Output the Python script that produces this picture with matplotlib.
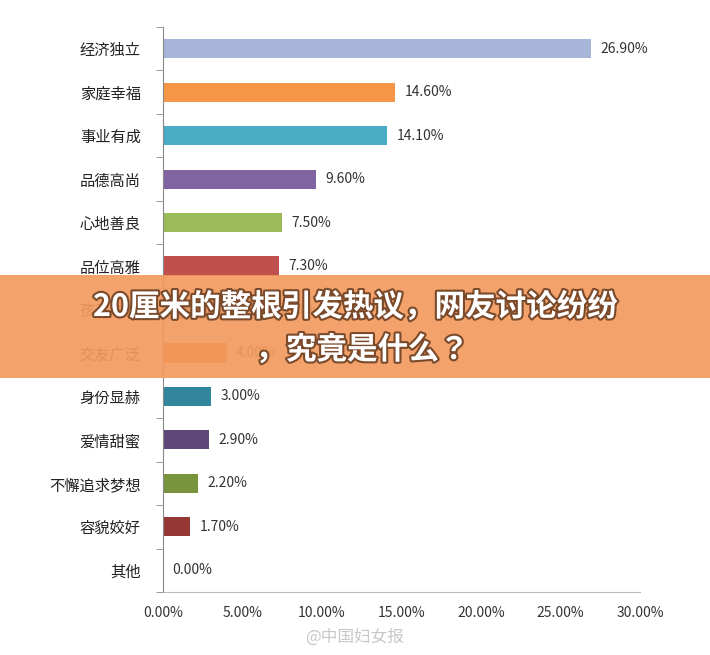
import matplotlib.pyplot as plt
import matplotlib.patches as mpatches
import matplotlib.patheffects as pe
from matplotlib import font_manager as fm

names = []
for f in fm.findSystemFonts():
    if 'cjk' in f.lower():
        try:
            fm.fontManager.addfont(f)
            names.append(fm.FontProperties(fname=f).get_name())
        except Exception:
            pass
fam = 'DejaVu Sans'
for pref in ['Noto Sans CJK SC', 'Noto Sans CJK JP', 'Sans CJK']:
    hits = [n for n in names if pref in n]
    if hits:
        fam = hits[0]
        break
plt.rcParams['font.family'] = [fam, 'DejaVu Sans']

categories = ['经济独立', '家庭幸福', '事业有成', '品德高尚', '心地善良', '品位高雅', '孩子成器',
              '交友广泛', '身份显赫', '爱情甜蜜', '不懈追求梦想', '容貌姣好', '其他']
values = [26.9, 14.6, 14.1, 9.6, 7.5, 7.3, 6.5, 4.0, 3.0, 2.9, 2.2, 1.7, 0.0]
colors = ['#A7B5D9', '#F79646', '#4BACC6', '#8064A2', '#9BBB59', '#C0504D', '#4F81BD',
          '#E46C0A', '#31859C', '#5F497A', '#77933C', '#953735', '#4F81BD']
xticks = [0, 5, 10, 15, 20, 25, 30]

W, H = 710, 655
fig = plt.figure(figsize=(W / 100, H / 100), dpi=100)
ax = fig.add_axes([163 / W, 1 - 592 / H, (640 - 163) / W, (592 - 27) / H])

y = list(range(len(categories)))
ax.barh(y, values, height=0.44, color=colors)
for yi, v in zip(y, values):
    ax.text(v + 0.6, yi, f'{v:.2f}%', va='center', ha='left', fontsize=10, color='#333333')

ax.set_ylim(len(categories) - 0.5, -0.5)
ax.set_xlim(0, 30)
ax.set_yticks(y)
ax.set_yticklabels(categories, fontsize=11, color='#222222')
ax.set_xticks(xticks)
ax.set_xticklabels([f'{t:.2f}%' for t in xticks], fontsize=10, color='#333333')
ax.tick_params(axis='x', length=0, pad=10)
ax.set_yticks([i - 0.5 for i in range(len(categories) + 1)], minor=True)
ax.tick_params(axis='y', which='major', length=0, pad=16)
ax.tick_params(axis='y', which='minor', length=5, color='#888888')
for s in ['top', 'right']:
    ax.spines[s].set_visible(False)
ax.spines['left'].set_color('#888888')
ax.spines['bottom'].set_color('#BBBBBB')

# banner overlay
fig.patches.append(mpatches.Rectangle((0, 1 - 378 / H), 1, 103 / H, transform=fig.transFigure,
                                      facecolor='#F39A5E', alpha=0.92, zorder=5))
shadow = [pe.withStroke(linewidth=3, foreground='#7a4a2a')]
fig.text(0.5, 1 - 307 / H, '20厘米的整根引发热议，网友讨论纷纷', ha='center', va='center',
         fontsize=22, fontweight='bold', color='white', zorder=6, path_effects=shadow)
fig.text(0.51, 1 - 350 / H, '，究竟是什么？', ha='center', va='center',
         fontsize=22, fontweight='bold', color='white', zorder=6, path_effects=shadow)
fig.text(0.5, 1 - 637 / H, '@中国妇女报', ha='center', va='center', fontsize=12,
         color='#BBBBBB', alpha=0.8)

fig.savefig('out.png', dpi=100, facecolor='white')
